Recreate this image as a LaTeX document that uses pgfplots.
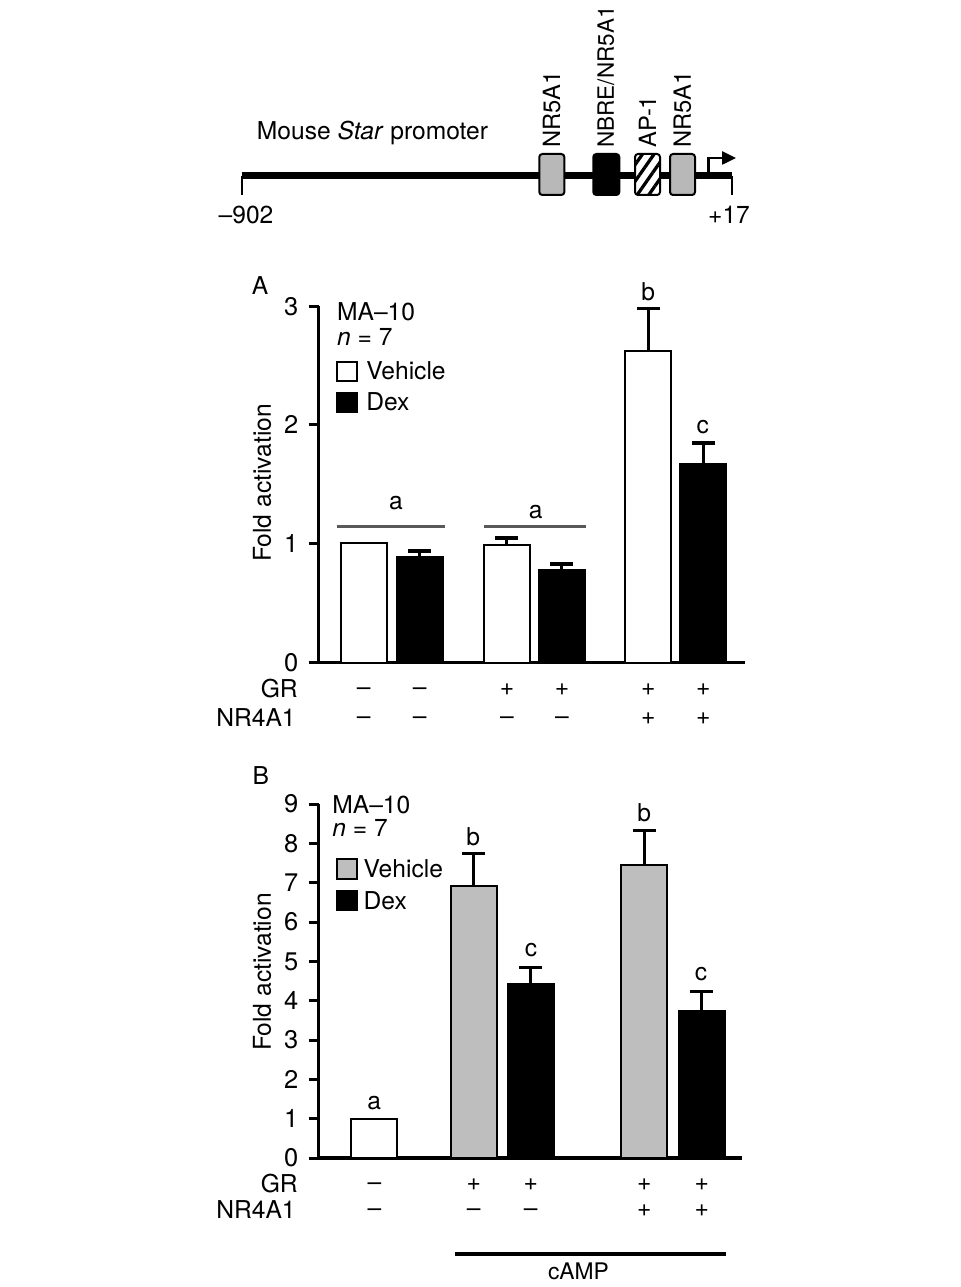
\documentclass[border=0pt]{standalone}
\usepackage{fontspec}
\setmainfont{TeX Gyre Heros}
\usepackage{pgfplots}
\pgfplotsset{compat=1.18}
\usetikzlibrary{patterns.meta, arrows.meta}
\definecolor{barg}{HTML}{BEBEBE}
\definecolor{boxg}{HTML}{B8B8B8}
\newcommand{\fs}{\fontsize{14}{16}\selectfont}

\pgfplotsset{
  panel/.style={
    scale only axis, clip=false, enlargelimits=false,
    axis x line=bottom, axis y line=left,
    x axis line style={-, line width=0.07cm},
    y axis line style={-, line width=0.06cm},
    tick align=outside, major tick length=0.2cm,
    ytick style={line width=0.06cm, black},
    xtick=\empty,
    tick label style={font=\fontsize{14.5}{16}\selectfont},
    yticklabel style={xshift=-0.08cm},
    /pgf/number format/assume math mode=true,
    ymin=0,
  },
  vbar/.style={ybar, bar width=46, bar shift=0pt, draw=black, line width=0.04cm},
  errs/.style={error bars/.cd, y dir=plus, y explicit,
    error bar style={line width=0.06cm, black},
    error mark options={rotate=90, mark size=0.23cm, line width=0.07cm, black}},
}

\begin{document}
\begin{tikzpicture}[x=0.02cm, y=-0.02cm]
\fill[white] (0,0) rectangle (960,1287);

% promoter diagram
\node[font=\fs, inner sep=0] at (372.5,133) {Mouse \textit{Star} promoter};
\draw[line width=0.14cm] (241.7,176) -- (731.7,176);
\draw[line width=0.04cm] (241.7,176) -- (241.7,195);
\draw[line width=0.04cm] (731.7,176) -- (731.7,195);
\draw[line width=0.05cm, -{Triangle[length=0.28cm, width=0.26cm]}] (708.3,176) -- (708.3,158) -- (736,158);
\draw[line width=0.04cm, rounded corners=0.06cm, fill=boxg] (539.3,154) rectangle (564.3,195);
\draw[line width=0.04cm, rounded corners=0.06cm, fill=black] (593.3,154) rectangle (619.3,195);
\draw[line width=0.04cm, rounded corners=0.06cm, preaction={fill=white},
      pattern={Lines[angle=55, distance=0.19cm, line width=0.065cm]}] (635,154) rectangle (660,195);
\draw[line width=0.04cm, rounded corners=0.06cm, fill=boxg] (670,154) rectangle (695,195);
\begin{scope}[every node/.style={rotate=90, anchor=west, inner sep=0, font=\fontsize{13.5}{15}\selectfont}]
\node at (551.7,148) {NR5A1};
\node[font=\fontsize{12.8}{15}\selectfont] at (606,148) {NBRE/NR5A1};
\node at (647.5,148) {AP-1};
\node at (682.5,148) {NR5A1};
\end{scope}
\node[font=\fs, inner sep=0] at (246,215) {–902};
\node[font=\fs, inner sep=0] at (729,215) {+17};

% panel A
\begin{axis}[panel, at={(318.5*0.02cm,-662.5*0.02cm)}, anchor=south west,
  width=8.53cm, height=7.128cm, xmin=318.5, xmax=745, ymax=3, ytick={0,1,2,3}]
\addplot[vbar, fill=white] coordinates {(363.7,1.01)};
\addplot[vbar, fill=white, errs] coordinates {(507,0.99) +- (0,0.06) (648.3,2.62) +- (0,0.36)};
\addplot[vbar, fill=black, errs] coordinates {(419.7,0.885) +- (0,0.055) (562,0.78) +- (0,0.05) (703.3,1.67) +- (0,0.18)};
\end{axis}

% panel B
\begin{axis}[panel, at={(318.5*0.02cm,-1158*0.02cm)}, anchor=south west,
  width=8.47cm, height=7.08cm, xmin=318.5, xmax=742, ymax=9, ytick={0,1,...,9}]
\addplot[vbar, fill=white] coordinates {(374.5,1.0)};
\addplot[vbar, fill=barg, errs] coordinates {(473.7,6.91) +- (0,0.83) (644.2,7.46) +- (0,0.87)};
\addplot[vbar, fill=black, errs] coordinates {(530.7,4.42) +- (0,0.42) (701.7,3.73) +- (0,0.5)};
\end{axis}

\begin{scope}[every node/.style={font=\fs, inner sep=0}]
% panel A annotations
\node at (260,286) {A};
\node[rotate=90] at (262,483) {Fold activation};
\node[anchor=west] at (336.8,311.7) {MA–10};
\node[anchor=west] at (336.8,336.7) {\textit{n} = 7};
\draw[line width=0.04cm, fill=white] (336.7,361.7) rectangle (357,380.7);
\draw[line width=0.04cm, fill=black] (336.7,392.7) rectangle (357,411.7);
\node[anchor=west] at (366,370.7) {Vehicle};
\node[anchor=west] at (366,401.7) {Dex};
\draw[line width=0.06cm, black!65] (336.7,526.7) -- (445,526.7);
\draw[line width=0.06cm, black!65] (484,526.7) -- (586,526.7);
\node at (396,503) {a};
\node at (535.7,511.7) {a};
\node at (648.3,291.7) {b};
\node at (702.7,426.7) {c};
\node[anchor=base east] at (298,697) {GR};
\node[anchor=base east] at (296,726) {NR4A1};
\foreach \x/\s in {363.7/–, 419.7/–, 507/+, 562/+, 648.3/+, 703.3/+}
  \node[anchor=base] at (\x,695) {\s};
\foreach \x/\s in {363.7/–, 419.7/–, 507/–, 562/–, 648.3/+, 703.3/+}
  \node[anchor=base] at (\x,724) {\s};

% panel B annotations
\node at (260.7,775.7) {B};
\node[rotate=90] at (262,972) {Fold activation};
\node[anchor=west] at (332,805) {MA–10};
\node[anchor=west] at (332,828) {\textit{n} = 7};
\draw[line width=0.04cm, fill=barg] (336.7,859) rectangle (357.3,879);
\draw[line width=0.04cm, fill=black] (336.7,890.7) rectangle (357.3,910);
\node[anchor=west] at (363.3,869) {Vehicle};
\node[anchor=west] at (363.3,900.7) {Dex};
\node at (374.3,1103.3) {a};
\node at (473.3,836.7) {b};
\node at (531,950) {c};
\node at (644.3,812.7) {b};
\node at (701,974.3) {c};
\node[anchor=base east] at (298,1192) {GR};
\node[anchor=base east] at (296,1218) {NR4A1};
\foreach \x/\s in {374.5/–, 473.7/+, 530.7/+, 644.2/+, 701.7/+}
  \node[anchor=base] at (\x,1190) {\s};
\foreach \x/\s in {374.5/–, 473.7/–, 530.7/–, 644.2/+, 701.7/+}
  \node[anchor=base] at (\x,1216) {\s};
\draw[line width=0.08cm] (454.5,1254) -- (725.5,1254);
\node[anchor=north, font=\fontsize{13}{15}\selectfont] at (578.5,1262) {cAMP};
\end{scope}

\pgfresetboundingbox
\useasboundingbox (0,0) rectangle (960,1287);
\end{tikzpicture}
\end{document}
